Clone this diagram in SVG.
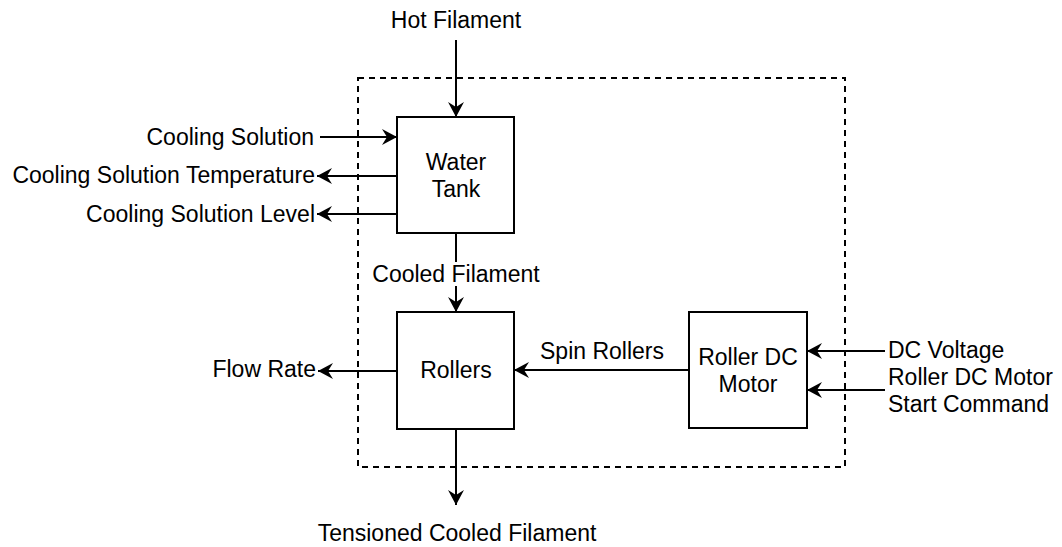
<svg xmlns="http://www.w3.org/2000/svg" width="1062" height="547" viewBox="0 0 1062 547">
<style>
text{font-family:"Liberation Sans",Arial,sans-serif;font-size:23px;fill:#000}
.c{text-anchor:middle}
.e{text-anchor:end}
.box{fill:#fff;stroke:#000;stroke-width:2}
.ln{stroke:#000;stroke-width:2;fill:none;marker-end:url(#ah)}
</style>
<defs>
<marker id="ah" markerUnits="userSpaceOnUse" markerWidth="16" markerHeight="16" refX="15" refY="8" orient="auto" viewBox="0 0 16 16">
<path d="M0,0 L15,8 L0,16 L5,8 Z" fill="#000"/>
</marker>
</defs>
<rect x="358" y="78" width="487" height="389" fill="none" stroke="#000" stroke-width="2" stroke-dasharray="6 5"/>
<g id="connectors">
<path class="ln" d="M456,40 V117"/>
<path class="ln" d="M320,137 H397"/>
<path class="ln" d="M397,176 H317"/>
<path class="ln" d="M397,214 H317"/>
<path class="ln" d="M456,233 V312"/>
<rect x="370" y="262" width="172" height="24" fill="#fff"/>
<text class="c" x="456" y="282">Cooled Filament</text>
<path class="ln" d="M397,371 H318"/>
<path class="ln" d="M689,370 H514"/>
<text class="c" x="602" y="359">Spin Rollers</text>
<path class="ln" d="M885,351 H807"/>
<path class="ln" d="M885,390 H807"/>
<path class="ln" d="M456,429 V505"/>
</g>
<g id="water-tank">
<rect class="box" x="397" y="117" width="117" height="116"/>
<text class="c" x="456" y="170">Water</text>
<text class="c" x="456" y="197">Tank</text>
</g>
<g id="rollers">
<rect class="box" x="397" y="312" width="117" height="117"/>
<text class="c" x="456" y="378">Rollers</text>
</g>
<g id="roller-dc-motor">
<rect class="box" x="689" y="312" width="118" height="116"/>
<text class="c" x="748" y="365">Roller DC</text>
<text class="c" x="748" y="392">Motor</text>
</g>
<g id="labels">
<text class="c" x="456" y="28">Hot Filament</text>
<text class="e" x="314" y="145">Cooling Solution</text>
<text class="e" x="315" y="183">Cooling Solution Temperature</text>
<text class="e" x="315" y="222">Cooling Solution Level</text>
<text class="e" x="316" y="377">Flow Rate</text>
<text x="888" y="358">DC Voltage</text>
<text x="888" y="385">Roller DC Motor</text>
<text x="888" y="412">Start Command</text>
<text class="c" x="457" y="541">Tensioned Cooled Filament</text>
</g>
</svg>
